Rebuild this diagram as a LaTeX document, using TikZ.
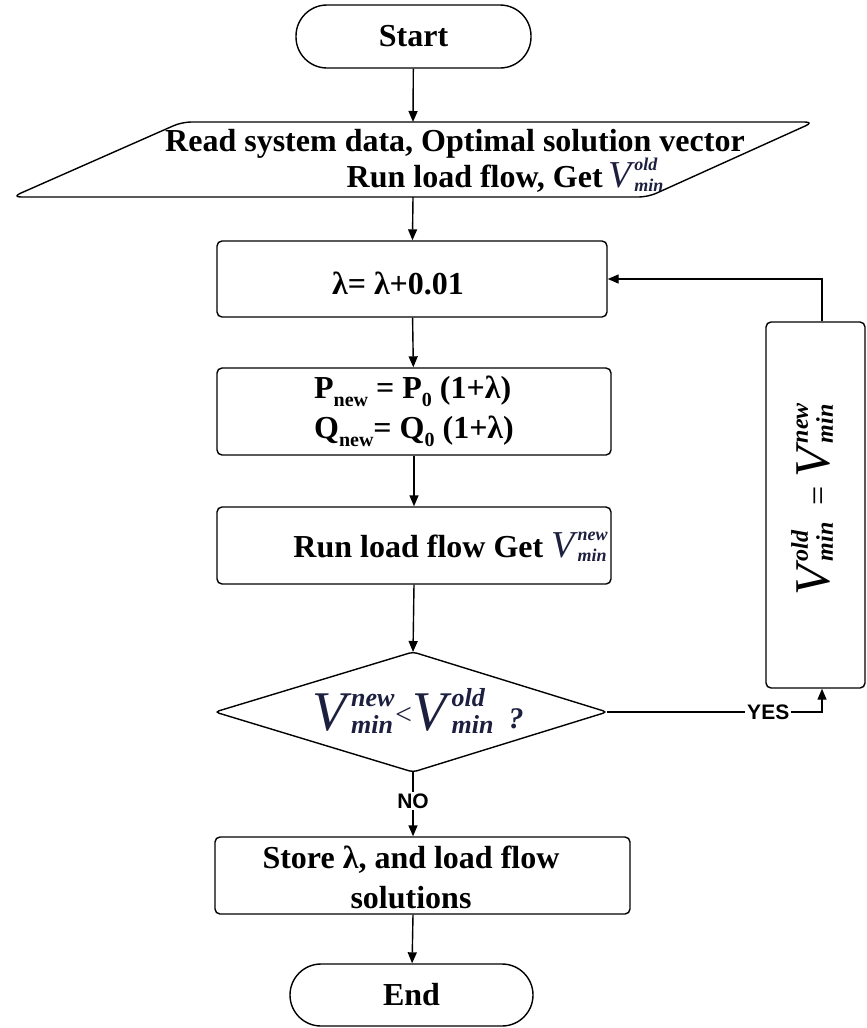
\documentclass[tikz,border=0pt]{standalone}
\usepackage{fontspec}
\setmainfont{Liberation Serif}
\newfontfamily\lblfont{Liberation Sans}
\usetikzlibrary{arrows.meta,calc}
\definecolor{vcol}{RGB}{28,32,62}
% italic V with a stacked superscript/subscript: size, script size, raise, drop, sup, sub
\newcommand\Vv[6]{%
  \mbox{\fontsize{#1}{#1}\selectfont\mdseries\itshape V\kern0.08em}%
  \mbox{\fontsize{#2}{#2}\selectfont\bfseries\itshape
    \rlap{\raisebox{#3}{#5}}\raisebox{-#4}{#6}}}
% bold subscript
\newcommand\lowsub[1]{\raisebox{-0.25em}{\fontsize{20}{20}\selectfont #1}}
\begin{document}
\begin{tikzpicture}[x=1pt,y=-1pt,
  line width=1.4pt,
  box/.style={draw, rounded corners=5pt, inner sep=0pt},
  term/.style={draw, rounded corners=31pt, inner sep=0pt},
  txt/.style={font=\fontsize{32}{40}\selectfont\bfseries, inner sep=0pt},
  lbl/.style={font=\lblfont\fontsize{21}{21}\selectfont\bfseries, fill=white, inner sep=2pt},
  flow/.style={-{Triangle[length=11pt,width=9pt]}}]
\useasboundingbox (0,0) rectangle (867,1028);

% terminals
\node[term, txt, minimum width=235pt, minimum height=63pt] (start) at (413.5,36.5) {Start};
\node[term, txt, minimum width=243pt, minimum height=62pt] (end) at (411.5,995) {End};

% input / output parallelogram
\draw[rounded corners=9pt] (12,197) -- (182,122) -- (814,122) -- (648,197) -- cycle;
\coordinate (readT) at (413,122);
\coordinate (readB) at (413,197);
\node[txt, anchor=base] (read1) at (455,151) {Read system data, Optimal solution vector};
\node[txt, anchor=base] (read2) at (505,187) {Run load flow, Get\,\textcolor{vcol}{\Vv{38}{18}{17pt}{4pt}{old}{min}}};

% process boxes
\node[box, minimum width=390pt, minimum height=76pt] (lam) at (412,279) {};
\node[txt, anchor=base] (lamtxt) at (398,294) {λ= λ+0.01};

\node[box, txt, minimum width=394pt, minimum height=87pt, align=left] (pbox) at (414,411.5)
  {P\lowsub{new} = P\lowsub{0} (1+λ)\\ Q\lowsub{new}= Q\lowsub{0} (1+λ)};

\node[box, minimum width=394pt, minimum height=77pt] (run) at (414,545.5) {};
\node[txt, anchor=base] (runtxt) at (450,557) {Run load flow Get \textcolor{vcol}{\Vv{38}{18}{17pt}{4pt}{new}{min}}};

% decision
\coordinate (dT) at (413,652);
\coordinate (dB) at (413,772);
\coordinate (dL) at (215,712);
\coordinate (dR) at (607,712);
\draw[rounded corners=4pt] (dT) -- (dR) -- (dB) -- (dL) -- cycle;
\node[inner sep=0pt, anchor=base, text=vcol] (cond) at (418,730)
  {\Vv{56}{26}{24pt}{3pt}{new}{min}\kern2pt\fontsize{30}{30}\selectfont\raisebox{6pt}{<}\kern1pt\Vv{56}{26}{24pt}{3pt}{old}{min}\fontsize{30}{30}\selectfont\itshape\bfseries\ \ \raisebox{2pt}{?}};

% update box on the loop back
\node[box, minimum width=99pt, minimum height=366pt] (fb) at (815.5,505) {};
\node[rotate=90, inner sep=0pt] (fbtxt) at (812,500)
  {\Vv{50}{24}{22pt}{3pt}{old}{min}\fontsize{34}{34}\selectfont\ \ =\ \Vv{50}{24}{22pt}{3pt}{new}{min}};
\coordinate (fbin) at ([xshift=6.5pt]fb.south);
\coordinate (fbout) at ([xshift=6.5pt]fb.north);

% result box
\node[box, minimum width=415pt, minimum height=77pt] (store) at (422.5,875.5) {};
\node[txt, align=center] (storetxt) at (411,877) {Store λ, and load flow\\solutions};

% connectors
\draw[flow] (start) -- (readT);
\draw[flow] (readB) -- (lam);
\draw[flow] (lam) -- (pbox);
\draw[flow] (pbox) -- (run);
\draw[flow] (run.south) -- (dT);
\draw[flow] (dB) -- node[lbl, pos=0.45] {NO} (dB |- store.north);
\draw[flow] (dR) -- node[lbl, pos=0.75] {YES} (dR -| fbin) -- (fbin);
\draw[flow] (fbout) |- (lam.east);
\draw[flow] (store.south -| dB) -- (end);
\end{tikzpicture}
\end{document}
